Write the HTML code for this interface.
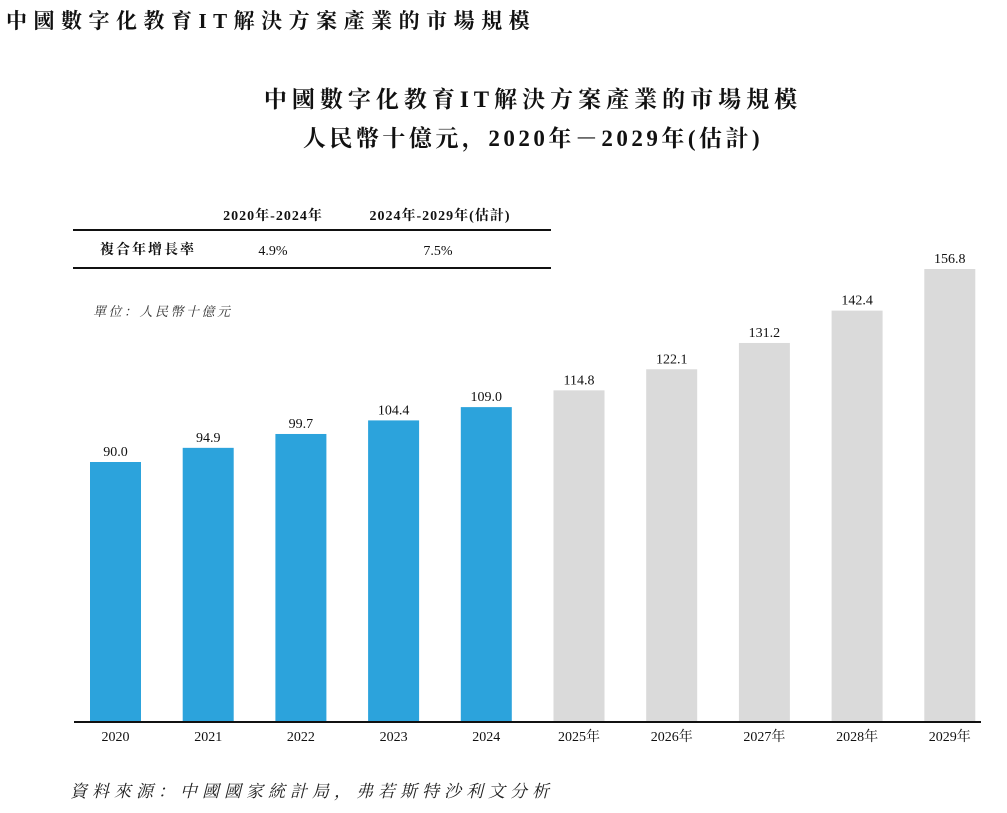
<!DOCTYPE html>
<html><head><meta charset="utf-8"><style>
body{margin:0;width:1007px;height:808px;background:#fff;overflow:hidden;font-family:"Liberation Serif","Noto Serif CJK SC",serif;}
svg text{font-family:"Liberation Serif","Noto Serif CJK SC",serif;}
</style></head><body>
<svg id="c" width="1007" height="808" xmlns="http://www.w3.org/2000/svg">
<text x="6" y="28" font-size="21" font-weight="bold" letter-spacing="6.5" fill="#111">中國數字化教育IT解決方案產業的市場規模</text>
<text x="533" y="107" font-size="23" font-weight="bold" text-anchor="middle" letter-spacing="5" fill="#111">中國數字化教育IT解決方案產業的市場規模</text>
<text x="533" y="146" font-size="23" font-weight="bold" text-anchor="middle" letter-spacing="3.5" fill="#111">人民幣十億元，2020年－2029年(估計)</text>
<g>
<text x="273" y="220" font-size="14" font-weight="bold" text-anchor="middle" letter-spacing="1" fill="#111">2020年-2024年</text>
<text x="440" y="220" font-size="14" font-weight="bold" text-anchor="middle" letter-spacing="1" fill="#111">2024年-2029年(估計)</text>
<line x1="73" y1="230" x2="551" y2="230" stroke="#111" stroke-width="2"/>
<text x="100" y="254" font-size="14" font-weight="bold" letter-spacing="2" fill="#111">複合年增長率</text>
<text x="273" y="255" font-size="14" text-anchor="middle" fill="#111">4.9%</text>
<text x="438" y="255" font-size="14" text-anchor="middle" fill="#111">7.5%</text>
<line x1="73" y1="268" x2="551" y2="268" stroke="#111" stroke-width="2"/>
</g>
<text x="93" y="316" font-size="13" font-style="italic" letter-spacing="2.5" fill="#333">單位：人民幣十億元</text>
<g id="bars"></g>
<line x1="74" y1="722" x2="981" y2="722" stroke="#111" stroke-width="2"/>
<text x="70" y="797" font-size="17" font-style="italic" letter-spacing="5" fill="#222">資料來源：中國國家統計局，弗若斯特沙利文分析</text>
</svg>
<script>
const categories=["2020","2021","2022","2023","2024","2025年","2026年","2027年","2028年","2029年"];
const values=[90.0,94.9,99.7,104.4,109.0,114.8,122.1,131.2,142.4,156.8];
const valueLabels=["90.0","94.9","99.7","104.4","109.0","114.8","122.1","131.2","142.4","156.8"];
const forecast=[false,false,false,false,false,true,true,true,true,true];
const ns="http://www.w3.org/2000/svg";
const g=document.getElementById('bars');
const base=722, k=(722-462)/90;
const y=v=>base-v*k;
const x0=90, step=92.7, bw=51;
const xs=i=>x0+i*step;
categories.forEach((c,i)=>{
  const r=document.createElementNS(ns,'rect');
  
  
  r.setAttribute('x',xs(i));r.setAttribute('y',y(values[i]));
  r.setAttribute('width',bw);r.setAttribute('height',base-y(values[i]));
  r.setAttribute('fill',forecast[i]?'#dadada':'#2ca3dc');
  g.appendChild(r);
  const t=document.createElementNS(ns,'text');
  
  
  t.setAttribute('x',xs(i)+bw/2);t.setAttribute('y',y(values[i])-6);
  t.setAttribute('font-size','14');t.setAttribute('text-anchor','middle');t.setAttribute('fill','#111');
  t.textContent=valueLabels[i];g.appendChild(t);
  const l=document.createElementNS(ns,'text');
  
  
  l.setAttribute('x',xs(i)+bw/2);l.setAttribute('y',741);
  l.setAttribute('font-size','14');l.setAttribute('text-anchor','middle');l.setAttribute('fill','#111');
  l.textContent=c;g.appendChild(l);
});
</script>
</body></html>
